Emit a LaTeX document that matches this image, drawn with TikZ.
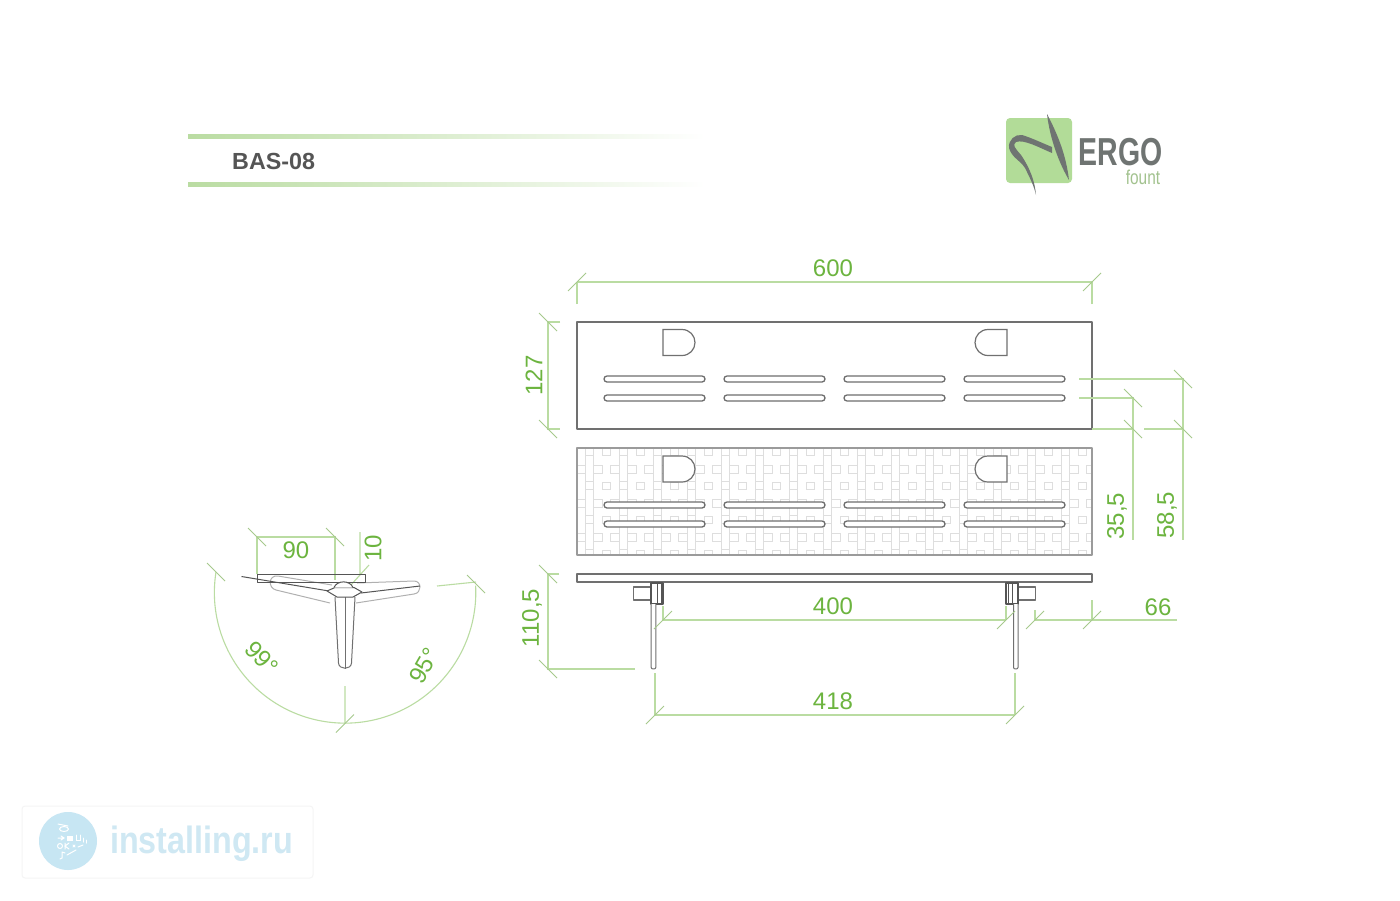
\documentclass[tikz,border=0pt]{standalone}
\usepackage{fontspec}
\setmainfont{Liberation Sans}
\usetikzlibrary{calc}
\definecolor{dimgreen}{HTML}{BADCA2}
\definecolor{tickgreen}{HTML}{A6C98C}
\definecolor{txtgreen}{HTML}{6CB43F}
\definecolor{linegray}{HTML}{707070}
\definecolor{darkgray}{HTML}{555555}
\definecolor{patgray}{HTML}{DEDEDE}
\definecolor{logogreen}{HTML}{B2DC98}
\definecolor{logogray}{HTML}{6F7472}
\definecolor{wmblue}{HTML}{C7E6F3}
\definecolor{wmtext}{HTML}{CFE8F3}
\tikzset{
  dimline/.style={draw=dimgreen,line width=1.1pt},
  ticklane/.style={draw=tickgreen,line width=1pt},
  dimtext/.style={text=txtgreen,font=\fontsize{24}{24}\selectfont,inner sep=0pt},
  part/.style={draw=linegray,line width=1.3pt,line join=round},
  thinpart/.style={draw=linegray,line width=1pt,line join=round},
  slot/.style={draw=darkgray!85,line width=1.3pt,rounded corners=3pt,fill=white},
  dshape/.style={draw=linegray,line width=1.2pt,fill=white},
  pat/.style={draw=patgray,line width=1pt},
  headbar/.style={left color=dimgreen,right color=white,draw=none},
  wmicon/.style={white,line width=1pt,line cap=round},
}
\def\tkF(#1,#2);{\draw[ticklane] (#1-9,#2+9) -- (#1+9,#2-9);}
\def\tkB(#1,#2);{\draw[ticklane] (#1-9,#2-9) -- (#1+9,#2+9);}
\newcommand\slotrow[1]{%
  \foreach \sx in {604,724,844,964}{\draw[slot] (\sx,#1-3) rectangle (\sx+101,#1+3);}}
\newcommand\dleft[1]{%
  \draw[dshape] (663,#1) -- (682,#1) .. controls (689.5,#1) and (695,#1+6) .. (695,#1+13)
   .. controls (695,#1+20) and (689.5,#1+26) .. (682,#1+26) -- (663,#1+26) -- cycle;}
\newcommand\dright[1]{%
  \draw[dshape] (1007,#1) -- (988,#1) .. controls (980.5,#1) and (975,#1+6) .. (975,#1+13)
   .. controls (975,#1+20) and (980.5,#1+26) .. (988,#1+26) -- (1007,#1+26) -- cycle;}
\begin{document}
\begin{tikzpicture}[x=1pt,y=-1pt]
\fill[white] (0,0) rectangle (1400,900);
\useasboundingbox (0,0) rectangle (1400,900);

% header
\fill[headbar] (188,134) rectangle (705,138);
\fill[headbar] (188,182) rectangle (705,186);
\node[anchor=west,inner sep=0pt,text=darkgray,font=\fontsize{23.3}{24}\selectfont\bfseries] (title) at (232,161) {BAS-08};

% logo
\fill[logogreen,rounded corners=4pt] (1006,118) rectangle (1072,183);
\fill[logogray] (1047,114) .. controls (1058,135) and (1066,155) .. (1069,180)
  .. controls (1060,165) and (1050,140) .. (1047,114) -- cycle;
\fill[logogray] (1052,147) .. controls (1042,143) and (1032,138) .. (1022,135)
  .. controls (1015,134) and (1008,140) .. (1009,148)
  .. controls (1012,158) and (1020,160) .. (1025,168) .. controls (1030,178) and (1034,186) .. (1036,195)
  .. controls (1035,182) and (1030,168) .. (1021,155)
  .. controls (1015,148) and (1012,145) .. (1016,142)
  .. controls (1024,139) and (1040,148) .. (1052,153) -- cycle;
\node[inner sep=0pt,text=logogray,font=\fontsize{39}{39}\selectfont\bfseries] (ergo) at (1120.5,152) {\scalebox{0.73}[1]{ERGO}};
\node[inner sep=0pt,text=logogreen!85!black!90,font=\fontsize{20}{20}\selectfont] (fount) at (1143,177) {\scalebox{0.77}[1]{fount}};

% patterned panel
\begin{scope}
\clip (577,448) rectangle (1092,555);
\foreach \i in {-1,...,15}{\foreach \j in {0,...,3}{
\begin{scope}[shift={(\i*34,\j*34)}]
\draw[pat] (585,448) -- (585,482) (593,448) -- (593,482)
  (585,455) -- (593,455) (585,481) -- (593,481)
  (602,448) rectangle (610,455)
  (593,465) rectangle (602,473)
  (610,465) rectangle (619,473);
\end{scope}}}
\end{scope}

% panels
\draw[part] (577,322) rectangle (1092,429);
\draw[part,draw=linegray!70] (577,448) rectangle (1092,555);
\draw[part] (577,574) rectangle (1092,582);
\slotrow{379}\slotrow{398}\slotrow{505}\slotrow{524}
\dleft{329.5}\dright{329.5}\dleft{456}\dright{456}

% brackets and legs
\draw[part,fill=white] (633.5,587) rectangle (651,600);
\draw[part,fill=white,draw=darkgray] (651,583) rectangle (663,604);
\draw[thinpart,draw=darkgray] (657,583) -- (657,604) (661,583) -- (661,604);
\draw[thinpart,fill=white] (651.2,604) -- (651.2,667.5) .. controls (651.2,669.5) and (655.8,669.5) .. (655.8,667.5) -- (655.8,604);
\draw[part,fill=white] (1018,587) rectangle (1035.5,600);
\draw[part,fill=white,draw=darkgray] (1006,583) rectangle (1018,604);
\draw[thinpart,draw=darkgray] (1008,583) -- (1008,604) (1012,583) -- (1012,604);
\draw[thinpart,fill=white] (1013.5,604) -- (1013.5,667.5) .. controls (1013.5,669.5) and (1018,669.5) .. (1018,667.5) -- (1018,604);

% dimensions: 600
\draw[dimline] (577,304) -- (577,282) (1092,304) -- (1092,282) (577,282) -- (1092,282);
\tkF(577,282);\tkF(1092,282);
\node[dimtext] (d600) at (833,268.5) {600};
% 127
\draw[dimline] (560,322) -- (548,322) -- (548,429) -- (560,429);
\tkB(548,322);\tkB(548,429);
\node[dimtext,rotate=90] (d127) at (534,375.5) {127};
% 110,5
\draw[dimline] (559,574) -- (548,574) -- (548,669) -- (635,669);
\tkB(548,574);\tkB(548,669);
\node[dimtext,rotate=90] (d110) at (532,618) {110,5};
% 400
\draw[dimline] (663,606) -- (663,620) (1006,606) -- (1006,620) (663,620) -- (1006,620);
\tkF(663,620);\tkF(1006,620);
\node[dimtext] (d400) at (833,606.5) {400};
% 418
\draw[dimline] (655,673) -- (655,715) (1015,673) -- (1015,715) (655,715) -- (1015,715);
\tkF(655,715);\tkF(1015,715);
\node[dimtext] (d418) at (833,701) {418};
% 66
\draw[dimline] (1035,620) -- (1177,620) (1092,600) -- (1092,620) (1035,610) -- (1035,620);
\tkF(1035,620);\tkF(1092,620);
\node[dimtext] (d66) at (1158,607.5) {66};
% 35,5
\draw[dimline] (1079,398) -- (1133,398) -- (1133,540) (1092,429) -- (1133,429);
\tkB(1133,398);\tkB(1133,429);
\node[dimtext,rotate=90] (d355) at (1117,516) {35,5};
% 58,5
\draw[dimline] (1079,379) -- (1183,379) -- (1183,540) (1144,429) -- (1183,429);
\tkB(1183,379);\tkB(1183,429);
\node[dimtext,rotate=90] (d585) at (1167,515) {58,5};

% top view dimensions
\draw[dimline] (257,574) -- (257,537) -- (335,537) -- (335,580);
\tkB(257,537);\tkB(335,537);
\node[dimtext] (d90) at (296,550.5) {90};
\draw[dimline] (360,532) -- (360,575) (350,586) -- (369,565);
\node[dimtext,rotate=90] (d10) at (373,548) {10};
\draw[dimline] (216,572) arc[start angle=171,end angle=363,radius=130.7pt];
\draw[dimline] (345,686) -- (345,723.5) (437,586) -- (476,582);
\tkB(216,572);\tkB(476,584);\tkF(345,723.5);
\node[dimtext,rotate=-48] (d99) at (262,658) {99°};
\node[dimtext,rotate=60] (d95) at (424,666) {95°};

% tripod
\draw[thinpart,draw=linegray!55] (332,585) -- (278,576) .. controls (268,575) and (268,588) .. (276,590) -- (330,603);
\draw[thinpart,draw=linegray!55] (357,583) -- (414,581) .. controls (422,581) and (422,593) .. (414,594) -- (356,603);
\draw[thinpart,draw=darkgray] (257,574) rectangle (365,582.5);
\draw[thinpart,draw=darkgray] (241.5,576.5) -- (329,591);
\draw[thinpart,draw=darkgray] (361,593) -- (420,586);
\draw[thinpart] (335,597) -- (338.5,663) .. controls (339,670) and (351,670) .. (351.5,663) -- (355,597);
\draw[thinpart] (345,597) -- (345,668.5);
\draw[thinpart,draw=darkgray,fill=white] (327,591) -- (335,587.5) -- (354,587.5) -- (362,592) -- (353,597) -- (337,597) -- cycle;
\draw[thinpart,draw=darkgray,fill=white] (334,587.5) .. controls (337,580) and (350,580) .. (353,587.5);

% watermark
\draw[gray!8,line width=1pt,rounded corners=3pt] (22,806) rectangle (313,878);
\fill[wmblue] (68,841) circle (29);
\begin{scope}[wmicon]
\draw (64,829) ellipse (4.5 and 2.5);
\draw (58,824) -- (68,826);
\draw (58,838) -- (64,838) (61,836) -- (64,838) -- (61,840);
\fill (67,835.5) rectangle (73,841);
\draw (76,835) -- (76,840) -- (80,840) -- (80,835);
\draw (83,838) -- (83,842) (86,840) -- (86,843);
\draw (60,846) circle (2.5);
\draw (65,843) -- (65,849) (69,843) -- (65,846) -- (69,849);
\draw (73,845) -- (75,847) (75,845) -- (73,847);
\draw (78,847) -- (83,845);
\draw (62,852) -- (62,858) -- (60,859) (62,852) -- (65,853);
\draw (67,855) -- (76,850);
\end{scope}
\node[anchor=west,inner sep=0pt,text=wmtext,font=\fontsize{38}{38}\selectfont\bfseries] (wm) at (110,843.5) {\scalebox{0.85}[1]{installing.ru}};
\end{tikzpicture}
\end{document}
